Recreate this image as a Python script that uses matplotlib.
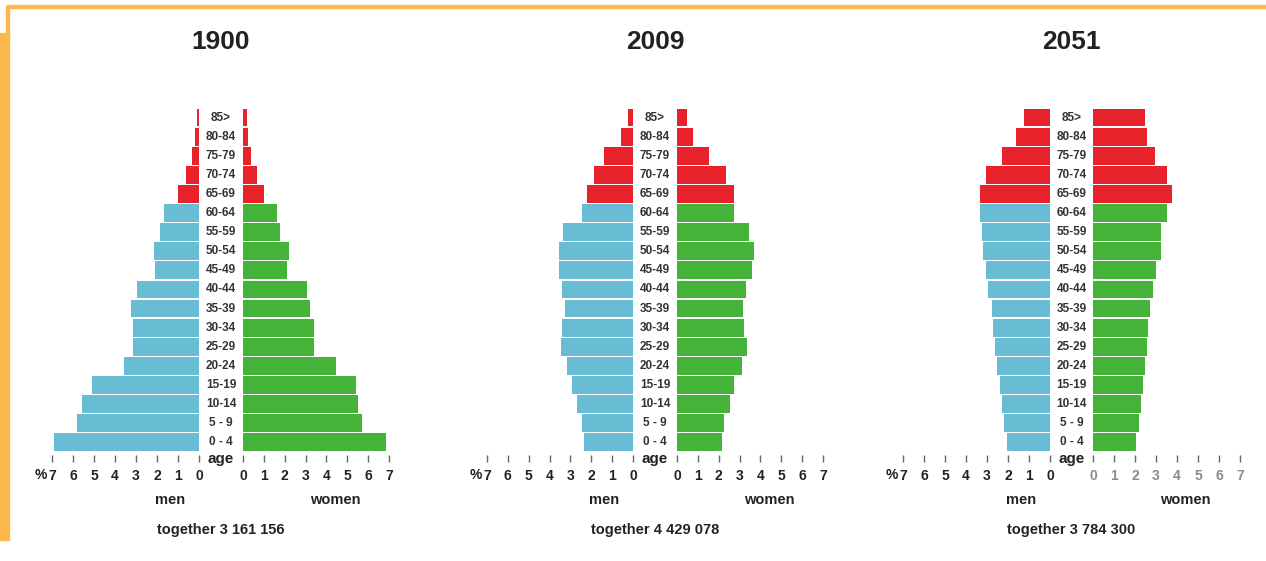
import matplotlib
matplotlib.use("Agg")
import matplotlib.pyplot as plt
from matplotlib.patches import Rectangle
from matplotlib.transforms import blended_transform_factory

# Age groups, bottom to top
ages = ["0 - 4", "5 - 9", "10-14", "15-19", "20-24", "25-29", "30-34", "35-39",
        "40-44", "45-49", "50-54", "55-59", "60-64", "65-69", "70-74", "75-79",
        "80-84", "85>"]

years = ["1900", "2009", "2051"]
totals = ["together 3 161 156", "together 4 429 078", "together 3 784 300"]

# share of population in %, bottom (0-4) to top (85>)
men_1900 = [6.89, 5.83, 5.59, 5.11, 3.56, 3.16, 3.13, 3.24, 2.97, 2.10, 2.14, 1.86,
            1.65, 0.98, 0.62, 0.35, 0.19, 0.11]
women_1900 = [6.84, 5.72, 5.53, 5.40, 4.45, 3.39, 3.42, 3.23, 3.07, 2.11, 2.19, 1.76,
              1.64, 1.00, 0.68, 0.40, 0.25, 0.20]
men_2009 = [2.35, 2.46, 2.70, 2.94, 3.17, 3.46, 3.41, 3.25, 3.41, 3.54, 3.57, 3.37,
            2.46, 2.19, 1.87, 1.38, 0.56, 0.24]
women_2009 = [2.16, 2.27, 2.56, 2.72, 3.12, 3.35, 3.23, 3.16, 3.32, 3.59, 3.67, 3.43,
              2.72, 2.72, 2.35, 1.52, 0.75, 0.48]
men_2051 = [2.07, 2.18, 2.30, 2.38, 2.54, 2.62, 2.70, 2.78, 2.94, 3.05, 3.18, 3.26,
            3.34, 3.34, 3.05, 2.30, 1.62, 1.22]
women_2051 = [2.07, 2.19, 2.30, 2.38, 2.46, 2.58, 2.62, 2.70, 2.86, 3.02, 3.26, 3.26,
              3.50, 3.74, 3.50, 2.94, 2.58, 2.46]

men = [men_1900, men_2009, men_2051]
women = [women_1900, women_2009, women_2051]
ticks = [0, 1, 2, 3, 4, 5, 6, 7]

BLUE = "#68bdd5"
GREEN = "#45b23a"
RED = "#e8222b"
ORANGE = "#fbb84c"
TXT = "#222222"

W, H = 1266, 561
fig = plt.figure(figsize=(W / 100, H / 100), dpi=100)
fig.patch.set_facecolor("white")
plt.rcParams["font.family"] = ["Liberation Sans", "DejaVu Sans"]

def fx(px):
    return px / W

def fy(py):
    return 1 - py / H

# pixel positions of the axes: (men 7, men 0, women 0, women 7)
panels = [(52, 199, 243, 389), (487, 633, 677, 823), (903, 1050, 1093, 1240)]
top_px, bot_px = 108, 455
y_pos = list(range(len(ages)))

for i, (m7, m0, w0, w7) in enumerate(panels):
    ax_m = fig.add_axes([fx(m7), fy(bot_px), fx(m0 - m7), (bot_px - top_px) / H])
    ax_w = fig.add_axes([fx(w0), fy(bot_px), fx(w7 - w0), (bot_px - top_px) / H])

    m_cols = [RED if k >= 13 else BLUE for k in y_pos]
    w_cols = [RED if k >= 13 else GREEN for k in y_pos]
    ax_m.barh(y_pos, men[i], height=0.93, color=m_cols, linewidth=0)
    ax_w.barh(y_pos, women[i], height=0.93, color=w_cols, linewidth=0)
    ax_m.set_xlim(7, 0)
    ax_w.set_xlim(0, 7)

    for ax in (ax_m, ax_w):
        ax.set_ylim(-0.67, 17.5)
        ax.set_yticks([])
        ax.set_xticks(ticks)
        ax.set_xticklabels([str(t) for t in ticks])
        ax.tick_params(axis="x", length=5, width=1, color="#666666", pad=5,
                       labelsize=10, labelcolor=TXT)
        for lab in ax.get_xticklabels():
            lab.set_fontweight("bold")
        for s in ax.spines.values():
            s.set_visible(False)
        ax.patch.set_alpha(0)
    if i == 2:
        for lab in ax_w.get_xticklabels():
            lab.set_color("#8a8a8a")

    # "%" in front of the 7 on the men's axis
    ax_m.annotate("%", xy=(7, 0), xycoords=("data", "axes fraction"),
                  xytext=(-5, -20), textcoords="offset pixels",
                  ha="right", va="center", fontsize=10, fontweight="bold", color=TXT)

    # age labels in the middle
    cx = (m0 + w0) / 2
    tr = blended_transform_factory(fig.transFigure, ax_m.transData)
    for k, a in enumerate(ages):
        fig.text(fx(cx), k, a, transform=tr, ha="center", va="center",
                 fontsize=8.5, fontweight="bold", color="#333333")
    fig.text(fx(cx), fy(459), "age", ha="center", va="center",
             fontsize=11, fontweight="bold", color=TXT)

    fig.text(fx(cx), fy(42), years[i], ha="center", va="center",
             fontsize=19, fontweight="bold", color=TXT)
    fig.text(fx(m0 - 29), fy(500), "men", ha="center", va="center",
             fontsize=10.5, fontweight="bold", color=TXT)
    fig.text(fx(w0 + 92), fy(500), "women", ha="center", va="center",
             fontsize=10.5, fontweight="bold", color=TXT)
    fig.text(fx(cx), fy(530), totals[i], ha="center", va="center",
             fontsize=10.5, fontweight="bold", color=TXT)

# orange frame
fig.patches.append(Rectangle((fx(7), fy(8)), 1 - fx(7), 3 / H, transform=fig.transFigure,
                             color=ORANGE, zorder=0))
fig.patches.append(Rectangle((fx(6), fy(34)), fx(3), 28 / H, transform=fig.transFigure,
                             color=ORANGE, zorder=0))
fig.patches.append(Rectangle((0, fy(540)), fx(9), (540 - 33) / H, transform=fig.transFigure,
                             color=ORANGE, zorder=0))

fig.savefig("out.png", dpi=100)
